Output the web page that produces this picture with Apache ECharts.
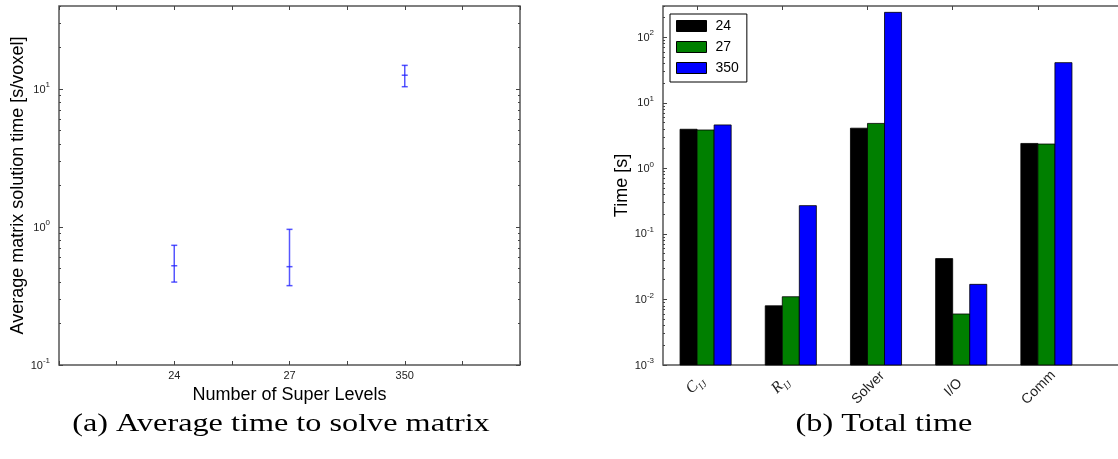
<!DOCTYPE html>
<html>
<head>
<meta charset="utf-8">
<script src="https://cdn.jsdelivr.net/npm/echarts@6/dist/echarts.min.js"></script>
<style>
  html, body { margin: 0; padding: 0; background: #fff; }
  #chart { width: 1118px; height: 459px; }
</style>
</head>
<body>
<div id="chart"></div>
<script>
// (a) average matrix solution time per voxel, with spread
const levels = ['24', '27', '350'];
const solveMean = [0.524, 0.516, 12.6];
const solveLow = [0.399, 0.376, 10.4];
const solveHigh = [0.737, 0.962, 14.85];

// (b) total time per phase for each number of super levels
const phases = ['C_IJ', 'R_IJ', 'Solver', 'I/O', 'Comm'];
const time24 = [3.95, 0.008, 4.1, 0.042, 2.4];
const time27 = [3.85, 0.011, 4.85, 0.006, 2.35];
const time350 = [4.6, 0.27, 240, 0.017, 41];

// log axis extents and decade labels
const leftRange = [0.1, 40];
const rightRange = [0.001, 300];
const leftDecades = [0.1, 1, 10];
const rightDecades = [0.001, 0.01, 0.1, 1, 10, 100];

const FONT = '"Liberation Sans", Arial, sans-serif';
const SERIF = '"Liberation Serif", "DejaVu Serif", serif';
const FRAME = '#555';
const TICK = '#444';

function minorTicks(decades, max) {
  const out = [];
  decades.forEach(d => {
    for (let m = 2; m <= 9; m++) {
      const v = +(d * m).toPrecision(6);
      if (v <= max) out.push(v);
    }
  });
  return out;
}

const supRich = {
  b: { fontSize: 11, fontFamily: FONT, color: '#222', verticalAlign: 'bottom', lineHeight: 12 },
  s: { fontSize: 8, fontFamily: FONT, color: '#222', verticalAlign: 'bottom', lineHeight: 8, padding: [0, 0, 6, 0] }
};
function decadeLabel(v) {
  const e = Math.round(Math.log10(v));
  return '{b|10}{s|' + e + '}';
}

const hiddenLine = { show: false, onZero: false };

function logAxis(gridIndex, range, decades, position, opts) {
  return Object.assign({
    type: 'log', logBase: 10, gridIndex, position,
    min: range[0], max: range[1],
    axisLine: hiddenLine,
    splitLine: { show: false },
    axisTick: { show: true, inside: true, length: 4, lineStyle: { color: TICK, width: 1 }, customValues: decades },
    axisLabel: { show: false, customValues: decades }
  }, opts || {});
}
function minorAxis(gridIndex, range, decades, position) {
  const minors = minorTicks(decades, range[1]);
  return {
    type: 'log', logBase: 10, gridIndex, position,
    min: range[0], max: range[1],
    axisLine: hiddenLine,
    splitLine: { show: false },
    axisTick: { show: true, inside: true, length: 2, lineStyle: { color: TICK, width: 1 }, customValues: minors },
    axisLabel: { show: false, customValues: minors }
  };
}

// tick positions for the phase axis sit at the left edge of the middle bar
const BAR_W = 0.2;
const phaseTicks = phases.map((_, i) => i - BAR_W / 2);

const phaseRich = {
  it: { fontFamily: SERIF, fontStyle: 'italic', fontSize: 16, color: '#222', verticalAlign: 'bottom', lineHeight: 16, padding: [0, 0, 3, 0] },
  sub: { fontFamily: SERIF, fontStyle: 'italic', fontSize: 10, color: '#222', verticalAlign: 'bottom', lineHeight: 10 },
  tx: { fontFamily: FONT, fontSize: 14, color: '#222', verticalAlign: 'bottom', lineHeight: 16 }
};
function phaseLabel(v) {
  const name = phases[Math.round(v + BAR_W / 2)];
  if (name === undefined) return '';
  const m = name.match(/^([A-Z])_(.+)$/);
  if (m) return '{it|' + m[1] + '}{sub|' + m[2] + '}';
  return '{tx|' + name + '}';
}

function barRenderer(offset) {
  return function (params, api) {
    const i = api.value(0);
    const v = api.value(1);
    const tl = api.coord([i + offset - BAR_W / 2, v]);
    const br = api.coord([i + offset + BAR_W / 2, rightRange[0]]);
    return {
      type: 'rect',
      shape: { x: tl[0], y: tl[1], width: br[0] - tl[0], height: br[1] - tl[1] },
      style: { fill: api.visual('color'), stroke: '#000', lineWidth: 0.8 }
    };
  };
}

function errorBarRenderer(params, api) {
  const x = api.value(0);
  const pm = api.coord([x, api.value(1)]);
  const pl = api.coord([x, api.value(2)]);
  const ph = api.coord([x, api.value(3)]);
  const cap = 3;
  const style = { stroke: 'rgba(30,30,255,0.75)', lineWidth: 1.5 };
  return {
    type: 'group',
    children: [
      { type: 'line', shape: { x1: pl[0], y1: pl[1], x2: ph[0], y2: ph[1] }, style },
      { type: 'line', shape: { x1: ph[0] - cap, y1: ph[1], x2: ph[0] + cap, y2: ph[1] }, style },
      { type: 'line', shape: { x1: pl[0] - cap, y1: pl[1], x2: pl[0] + cap, y2: pl[1] }, style },
      { type: 'line', shape: { x1: pm[0] - cap, y1: pm[1], x2: pm[0] + cap, y2: pm[1] }, style }
    ]
  };
}

const phaseCount = phases.length + 1; // one empty slot on the right

const option = {
  animation: false,
  backgroundColor: '#fff',
  grid: [
    { left: 59, top: 6, width: 461, height: 359, show: true, borderColor: FRAME, borderWidth: 1.5, backgroundColor: 'transparent', outerBoundsMode: 'none' },
    { left: 663, top: 6, width: 85.2 * phaseCount, height: 359, show: true, borderColor: FRAME, borderWidth: 1.5, backgroundColor: 'transparent', outerBoundsMode: 'none' }
  ],
  legend: {
    data: ['24', '27', '350'],
    orient: 'vertical',
    left: 670, top: 14,
    padding: [5, 8, 7, 6],
    itemWidth: 30, itemHeight: 11, itemGap: 7,
    icon: 'rect',
    borderColor: '#000', borderWidth: 1,
    itemStyle: { borderColor: '#000', borderWidth: 1 },
    textStyle: { fontFamily: FONT, fontSize: 14, lineHeight: 14, color: '#000', padding: [0, 0, 0, 4] },
    selectedMode: false
  },
  xAxis: [
    {
      type: 'value', gridIndex: 0, position: 'bottom', min: 0, max: 4, interval: 0.5,
      axisLine: hiddenLine, splitLine: { show: false },
      axisTick: { show: true, inside: true, length: 4, lineStyle: { color: TICK } },
      axisLabel: {
        fontFamily: FONT, fontSize: 11, color: '#222', margin: 5, hideOverlap: false,
        formatter: v => (Number.isInteger(v) && v >= 1 && v <= levels.length) ? levels[v - 1] : ''
      },
      name: 'Number of Super Levels', nameLocation: 'middle', nameGap: 18,
      nameTextStyle: { fontFamily: FONT, fontSize: 18, color: '#000' }
    },
    {
      type: 'value', gridIndex: 0, position: 'top', min: 0, max: 4, interval: 0.5,
      axisLine: hiddenLine, splitLine: { show: false },
      axisTick: { show: true, inside: true, length: 4, lineStyle: { color: TICK } },
      axisLabel: { show: false }
    },
    {
      type: 'value', gridIndex: 1, position: 'bottom', min: -0.5, max: phaseCount - 0.5,
      axisLine: hiddenLine, splitLine: { show: false },
      axisTick: { show: true, inside: true, length: 4, lineStyle: { color: TICK }, customValues: phaseTicks },
      axisLabel: {
        customValues: phaseTicks, rotate: 45, align: 'center', verticalAlign: 'middle', margin: 22,
        hideOverlap: false, rich: phaseRich, formatter: phaseLabel
      }
    },
    {
      type: 'value', gridIndex: 1, position: 'top', min: -0.5, max: phaseCount - 0.5,
      axisLine: hiddenLine, splitLine: { show: false },
      axisTick: { show: true, inside: true, length: 4, lineStyle: { color: TICK }, customValues: phaseTicks },
      axisLabel: { show: false, customValues: phaseTicks }
    }
  ],
  yAxis: [
    logAxis(0, leftRange, leftDecades, 'left', {
      axisLabel: { show: true, customValues: leftDecades, margin: 9, rich: supRich, formatter: decadeLabel },
      name: 'Average matrix solution time [s/voxel]', nameLocation: 'middle', nameGap: 30,
      nameTextStyle: { fontFamily: FONT, fontSize: 18, color: '#000' }
    }),
    minorAxis(0, leftRange, leftDecades, 'left'),
    logAxis(0, leftRange, leftDecades, 'right'),
    minorAxis(0, leftRange, leftDecades, 'right'),
    logAxis(1, rightRange, rightDecades, 'left', {
      axisLabel: { show: true, customValues: rightDecades, margin: 9, rich: supRich, formatter: decadeLabel },
      name: 'Time [s]', nameLocation: 'middle', nameGap: 31,
      nameTextStyle: { fontFamily: FONT, fontSize: 18, color: '#000' }
    }),
    minorAxis(1, rightRange, rightDecades, 'left')
  ],
  series: [
    {
      name: 'spread', type: 'custom', xAxisIndex: 0, yAxisIndex: 0,
      renderItem: errorBarRenderer,
      encode: { x: 0, y: [1, 2, 3] },
      data: levels.map((_, i) => [i + 1, solveMean[i], solveLow[i], solveHigh[i]]),
      silent: true
    },
    {
      name: '24', type: 'custom', xAxisIndex: 2, yAxisIndex: 4,
      itemStyle: { color: '#000000' }, renderItem: barRenderer(-BAR_W),
      encode: { x: 0, y: 1 }, data: time24.map((v, i) => [i, v]), silent: true
    },
    {
      name: '27', type: 'custom', xAxisIndex: 2, yAxisIndex: 4,
      itemStyle: { color: '#007f00' }, renderItem: barRenderer(0),
      encode: { x: 0, y: 1 }, data: time27.map((v, i) => [i, v]), silent: true
    },
    {
      name: '350', type: 'custom', xAxisIndex: 2, yAxisIndex: 4,
      itemStyle: { color: '#0000ff' }, renderItem: barRenderer(BAR_W),
      encode: { x: 0, y: 1 }, data: time350.map((v, i) => [i, v]), silent: true
    }
  ],
  graphic: [
    { type: 'text', x: 281, y: 424, scaleX: 1.24, style: { text: '(a) Average time to solve matrix', font: '26px ' + SERIF, fill: '#000', align: 'center', verticalAlign: 'middle' } },
    { type: 'text', x: 884, y: 424, scaleX: 1.24, style: { text: '(b) Total time', font: '26px ' + SERIF, fill: '#000', align: 'center', verticalAlign: 'middle' } }
  ]
};

const chart = echarts.init(document.getElementById('chart'), null, { renderer: 'canvas' });
chart.setOption(option);
</script>
</body>
</html>
